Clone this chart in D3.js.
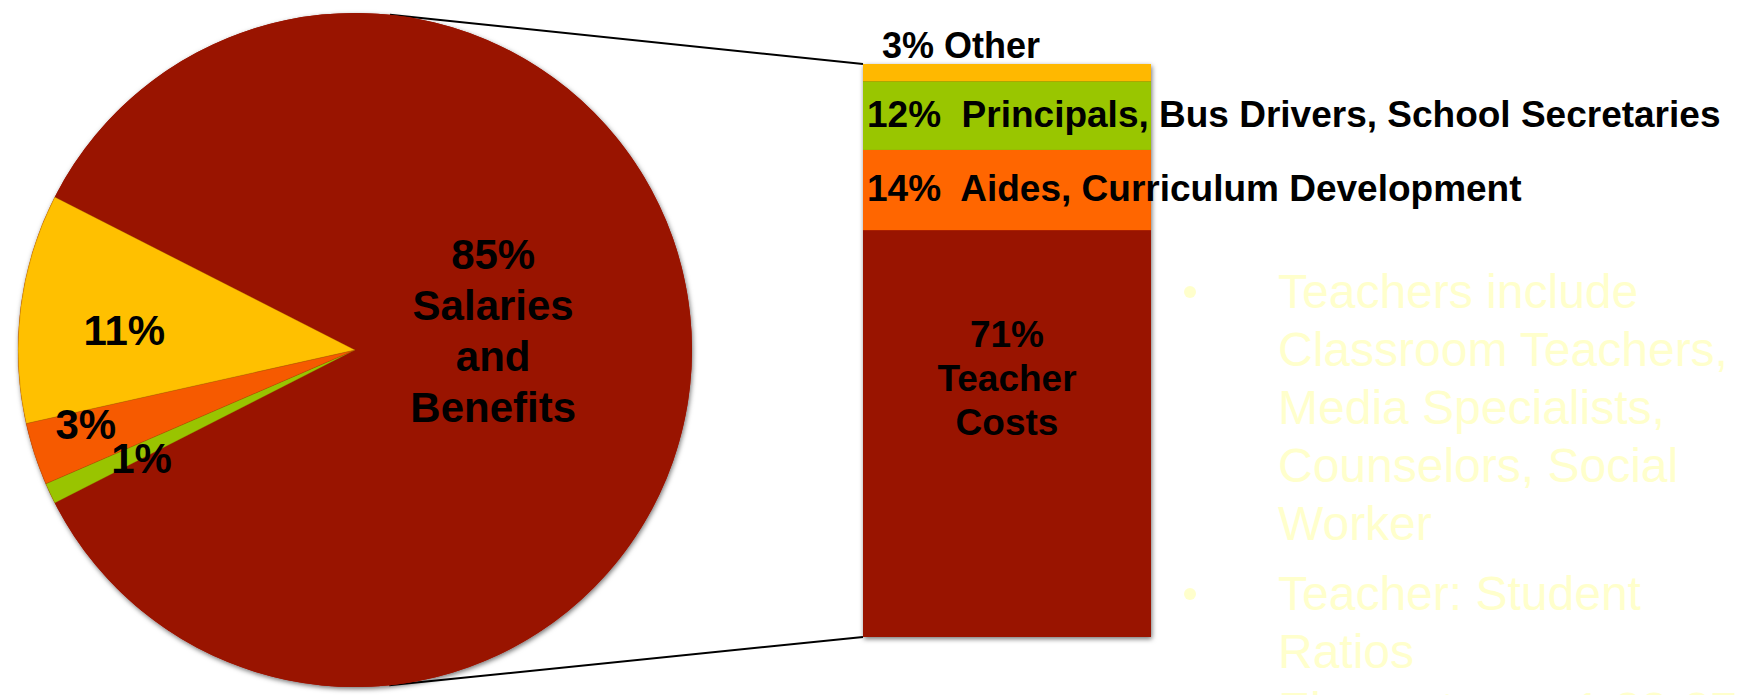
<!DOCTYPE html>
<html>
<head>
<meta charset="utf-8">
<script src="https://cdn.jsdelivr.net/npm/d3@7"></script>
<style>
  html, body { margin: 0; padding: 0; background: #ffffff; }
  svg { display: block; }
  text { font-family: "Liberation Sans", Arial, sans-serif; }
</style>
</head>
<body>
<svg id="chart" width="1744" height="695"></svg>
<script>
// ---------------- data ----------------
const pieKeys = ["Salaries and Benefits", "Green slice", "Orange slice", "Yellow slice"];
const pieValues = [85, 1, 3, 11];
const pieLabelLines = [["85%", "Salaries", "and", "Benefits"], ["1%"], ["3%"], ["11%"]];
const pieColors = ["#991400", "#99C400", "url(#gOrange)", "url(#gYellow)"];

const barCategories = ["Teacher Costs", "Aides, Curriculum Development",
  "Principals, Bus Drivers, School Secretaries", "Other"];
const barValues = [71, 14, 12, 3];
const barColors = ["#991400", "#FF6600", "#99C600", "#FFB800"];
const barLabels = [null, "14%  Aides, Curriculum Development",
  "12%  Principals, Bus Drivers, School Secretaries", "3% Other"];
const barInnerLines = ["71%", "Teacher", "Costs"];

const bulletItems = [
  ["Teachers include", "Classroom Teachers,", "Media Specialists,", "Counselors, Social", "Worker"],
  ["Teacher: Student", "Ratios", "Elementary \u2013 1:22-27"]
];

// ---------------- layout ----------------
const svg = d3.select("#chart");
const cx = 355, cy = 350, R = 337;
const barX0 = 863, barX1 = 1151, barTop = 64, barBottom = 637;

const defs = svg.append("defs");
const f = defs.append("filter").attr("id", "shadow")
  .attr("x", "-10%").attr("y", "-10%").attr("width", "120%").attr("height", "120%");
f.append("feDropShadow").attr("dx", 1).attr("dy", 2).attr("stdDeviation", 2.5)
  .attr("flood-color", "#000").attr("flood-opacity", 0.55);

const gy = defs.append("linearGradient").attr("id", "gYellow")
  .attr("gradientUnits", "userSpaceOnUse").attr("x1", 0).attr("x2", 0).attr("y1", 190).attr("y2", 430);
gy.append("stop").attr("offset", 0).attr("stop-color", "#FFC000");
gy.append("stop").attr("offset", 1).attr("stop-color", "#E59500");
const go = defs.append("linearGradient").attr("id", "gOrange")
  .attr("gradientUnits", "userSpaceOnUse").attr("x1", 0).attr("x2", 0).attr("y1", 410).attr("y2", 480);
go.append("stop").attr("offset", 0).attr("stop-color", "#F65A00");
go.append("stop").attr("offset", 1).attr("stop-color", "#EA4E00");

// ---------------- connector lines (tangents) ----------------
function tangentPoint(px, py, sign) {
  const dx = px - cx, dy = py - cy;
  const d = Math.hypot(dx, dy);
  const base = Math.atan2(dy, dx);
  const a = Math.acos(R / d);
  const t = base + sign * a;
  return [cx + R * Math.cos(t), cy + R * Math.sin(t)];
}
const tTop = tangentPoint(barX0, barTop, -1);
const tBot = tangentPoint(barX0, barBottom, 1);
const lineGen = d3.line();
svg.append("path").attr("d", lineGen([tTop, [barX0, barTop]]))
  .attr("stroke", "#000").attr("stroke-width", 2).attr("fill", "none");
svg.append("path").attr("d", lineGen([tBot, [barX0, barBottom]]))
  .attr("stroke", "#000").attr("stroke-width", 2).attr("fill", "none");

// ---------------- pie ----------------
const spanRed = 2 * Math.PI * pieValues[0] / d3.sum(pieValues);
const startA = Math.PI / 2 - spanRed / 2;
const pie = d3.pie().sort(null).value(d => d)
  .startAngle(startA).endAngle(startA + 2 * Math.PI);
const arcs = pie(pieValues);
const arc = d3.arc().innerRadius(0).outerRadius(R);

const pg = svg.append("g").attr("transform", `translate(${cx},${cy})`);
pg.append("circle").attr("r", R).attr("fill", "#991400").attr("filter", "url(#shadow)");
pg.selectAll("path.slice").data(arcs).enter().append("path")
  .attr("class", "slice")
  .attr("d", arc)
  .attr("fill", (d, i) => pieColors[i])
  .attr("stroke", (d, i) => i === 0 ? "none" : "rgba(150,80,0,0.35)")
  .attr("stroke-width", 0.8);

// labels: radius fraction & vertical shift (layout only)
const labelR = [0.41, 0.70, 0.84, 0.69];
const labelDy = [-20, 8, -13, 9];
const lineH = [51, 42, 42, 42];
arcs.forEach((a, i) => {
  const mid = (a.startAngle + a.endAngle) / 2;
  const r = R * labelR[i];
  const x = r * Math.sin(mid);
  const y = -r * Math.cos(mid) + labelDy[i];
  const lines = pieLabelLines[i];
  const n = lines.length;
  const t = pg.append("text")
    .attr("text-anchor", "middle")
    .attr("font-weight", "bold").attr("font-size", 42).attr("fill", "#000");
  lines.forEach((s, k) => {
    t.append("tspan").attr("x", x)
      .attr("y", y + 15 + (k - (n - 1) / 2) * lineH[i])
      .text(s);
  });
});

// ---------------- bar ----------------
const yScale = d3.scaleLinear().domain([0, d3.sum(barValues)]).range([barBottom, barTop]);
const stack = [];
let acc = 0;
barValues.forEach((v, i) => { stack.push({ i, y0: acc, y1: acc + v }); acc += v; });

const bg = svg.append("g");
bg.append("rect").attr("x", barX0).attr("y", barTop)
  .attr("width", barX1 - barX0).attr("height", barBottom - barTop)
  .attr("fill", "#991400").attr("filter", "url(#shadow)");
bg.selectAll("rect.seg").data(stack).enter().append("rect")
  .attr("class", "seg")
  .attr("x", barX0).attr("width", barX1 - barX0)
  .attr("y", d => yScale(d.y1))
  .attr("height", d => yScale(d.y0) - yScale(d.y1))
  .attr("fill", d => barColors[d.i]);

// inner label of teacher costs
const tc = stack[0];
const tcTop = yScale(tc.y1);
const tIn = bg.append("text").attr("text-anchor", "middle")
  .attr("font-weight", "bold").attr("font-size", 37).attr("fill", "#000");
barInnerLines.forEach((s, k) => {
  tIn.append("tspan").attr("x", (barX0 + barX1) / 2).attr("y", tcTop + 117 + k * 44).text(s);
});

// side labels
stack.forEach(d => {
  const lab = barLabels[d.i];
  if (!lab) return;
  const yTop = yScale(d.y1), yBot = yScale(d.y0);
  let x, y;
  if (d.i === 3) { x = barX0 + 19; y = yTop - 6; }
  else { x = barX0 + 4; y = (yTop + yBot) / 2 + 11; }
  bg.append("text").attr("x", x).attr("y", y)
    .attr("font-weight", "bold").attr("font-size", d.i === 3 ? 36 : 37)
    .attr("fill", "#000").style("white-space", "pre")
    .text(lab);
});

// ---------------- bullet text ----------------
const txtCol = "#FFFFCC";
const bx = 1190, tx = 1278;
let by = 308;
const lh = 58;
const blt = svg.append("g");
bulletItems.forEach((item, bi) => {
  blt.append("circle").attr("cx", bx).attr("cy", by - 16).attr("r", 6).attr("fill", txtCol);
  item.forEach((s, k) => {
    blt.append("text").attr("x", tx).attr("y", by).attr("font-size", 48)
      .attr("fill", txtCol).text(s);
    by += lh;
  });
  by += 12;
});
</script>
</body>
</html>
